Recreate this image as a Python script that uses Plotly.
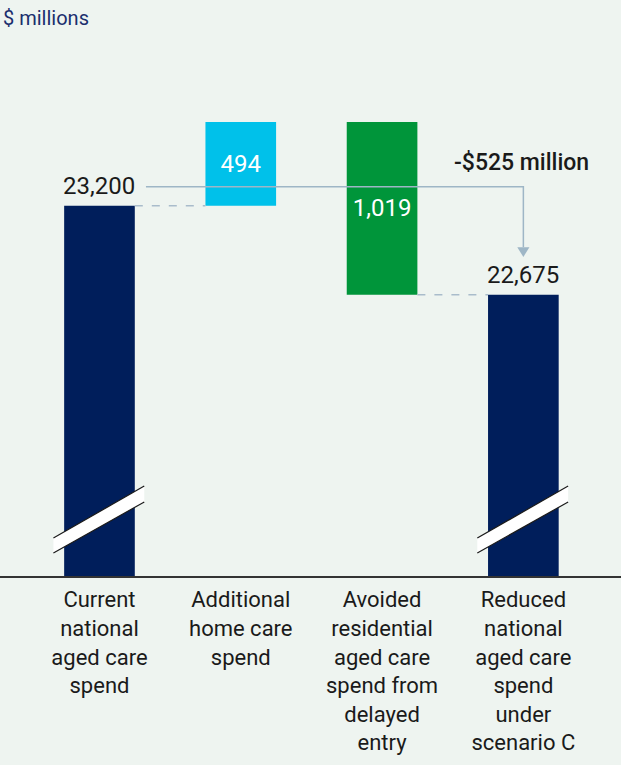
import plotly.graph_objects as go

# Waterfall components ($ millions)
categories = [
    "Current<br>national<br>aged care<br>spend",
    "Additional<br>home care<br>spend",
    "Avoided<br>residential<br>aged care<br>spend from<br>delayed<br>entry",
    "Reduced<br>national<br>aged care<br>spend<br>under<br>scenario C",
]
current_spend = 23200
home_care_added = 494
residential_avoided = 1019
reduced_spend = current_spend + home_care_added - residential_avoided
net_change = reduced_spend - current_spend

NAVY = "#001E5B"
CYAN = "#00C1EA"
GREEN = "#00953A"
BG = "#EEF4F0"
GUIDE = "#9EB6C6"
FONT = "Roboto"

x_idx = [0, 1, 2, 3]
bar_w = 0.5
y_lo, y_hi = 21016, 24119  # broken value axis

fig = go.Figure()

# Totals (start from zero; axis break hides the lower part)
fig.add_trace(go.Bar(
    x=[x_idx[0], x_idx[3]], y=[current_spend, reduced_spend], base=[0, 0],
    width=bar_w, marker=dict(color=NAVY, line=dict(width=0)),
    hoverinfo="skip",
))
# Increase
top = current_spend + home_care_added
fig.add_trace(go.Bar(
    x=[x_idx[1]], y=[home_care_added], base=[current_spend],
    width=bar_w, marker=dict(color=CYAN, line=dict(width=0)),
    text=[f"{home_care_added:,}"], textposition="inside", insidetextanchor="middle",
    textfont=dict(color="white", size=24, family=FONT), constraintext="none",
    hoverinfo="skip",
))
# Decrease
fig.add_trace(go.Bar(
    x=[x_idx[2]], y=[residential_avoided], base=[top - residential_avoided],
    width=bar_w, marker=dict(color=GREEN, line=dict(width=0)),
    text=[f"{residential_avoided:,}"], textposition="inside", insidetextanchor="middle",
    textfont=dict(color="white", size=24, family=FONT), constraintext="none",
    hoverinfo="skip",
))

shapes = []
# Dashed connectors between steps
shapes.append(dict(type="line", xref="x", yref="y",
                   x0=x_idx[0] + bar_w / 2, x1=x_idx[1] - bar_w / 2,
                   y0=current_spend, y1=current_spend,
                   line=dict(color="#A9BCCB", width=1.5, dash="8px,9px")))
shapes.append(dict(type="line", xref="x", yref="y",
                   x0=x_idx[2] + bar_w / 2, x1=x_idx[3] - bar_w / 2,
                   y0=reduced_spend, y1=reduced_spend,
                   line=dict(color="#A9BCCB", width=1.5, dash="8px,9px")))

# Net-change bracket arrow
arrow_y = 23313
tip_y = 22898
head_h = 58
head_half = 0.043
shapes.append(dict(type="path", xref="x", yref="y",
                   path=f"M 0.329 {arrow_y} L {x_idx[3]} {arrow_y} L {x_idx[3]} {tip_y + head_h}",
                   line=dict(color=GUIDE, width=1.5)))
shapes.append(dict(type="path", xref="x", yref="y",
                   path=(f"M {x_idx[3] - head_half} {tip_y + head_h} "
                         f"L {x_idx[3] + head_half} {tip_y + head_h} L {x_idx[3]} {tip_y} Z"),
                   fillcolor=GUIDE, line=dict(width=0)))

# Axis-break marks on the total bars
for xi in (x_idx[0], x_idx[3]):
    L, R = xi - 0.326, xi + 0.317
    lb, lt, rb, rt = 0.0437, 0.0722, 0.1407, 0.1711
    shapes.append(dict(type="path", xref="x", yref="paper",
                       path=f"M {L} {lb} L {L} {lt} L {R} {rt} L {R} {rb} Z",
                       fillcolor="white", line=dict(width=0)))
    for a, b in ((lt, rt), (lb, rb)):
        shapes.append(dict(type="line", xref="x", yref="paper",
                           x0=L, x1=R, y0=a, y1=b,
                           line=dict(color="#1a1a1a", width=1.2)))

annotations = [
    dict(text="$ millions", xref="paper", yref="paper", x=0, y=1,
         xanchor="left", yanchor="middle", xshift=1, yshift=32, showarrow=False,
         font=dict(family=FONT, size=20, color="#1B2F6E")),
    dict(text=f"{current_spend:,}", xref="x", yref="y", x=x_idx[0], y=current_spend,
         yanchor="middle", yshift=20, showarrow=False,
         font=dict(family=FONT, size=24, color="#1a1a1a")),
    dict(text=f"{reduced_spend:,}", xref="x", yref="y", x=x_idx[3], y=reduced_spend,
         yanchor="middle", yshift=20, showarrow=False,
         font=dict(family=FONT, size=24, color="#1a1a1a")),
    dict(text=f"-${abs(net_change):,} million", xref="x", yref="y", x=x_idx[3] - 0.01, y=arrow_y,
         xanchor="center", yanchor="middle", yshift=24, showarrow=False,
         font=dict(family=FONT, size=23, color="#1a1a1a", weight=500)),
]

fig.update_layout(
    width=621, height=765,
    margin=dict(l=0, r=0, t=50, b=189, pad=0),
    paper_bgcolor=BG, plot_bgcolor=BG,
    showlegend=False, barmode="overlay",
    shapes=shapes, annotations=annotations,
    xaxis=dict(range=[-0.704, 3.691], tickvals=x_idx, ticktext=categories,
               showgrid=False, zeroline=False, showline=True,
               linecolor="#333333", linewidth=2, ticks="",
               ticklabelstandoff=3,
               tickfont=dict(family=FONT, size=22, color="#1a1a1a"),
               fixedrange=True),
    yaxis=dict(range=[y_lo, y_hi], visible=False, fixedrange=True),
    font=dict(family=FONT),
)

fig.write_html("out.html", config={"displayModeBar": False})
